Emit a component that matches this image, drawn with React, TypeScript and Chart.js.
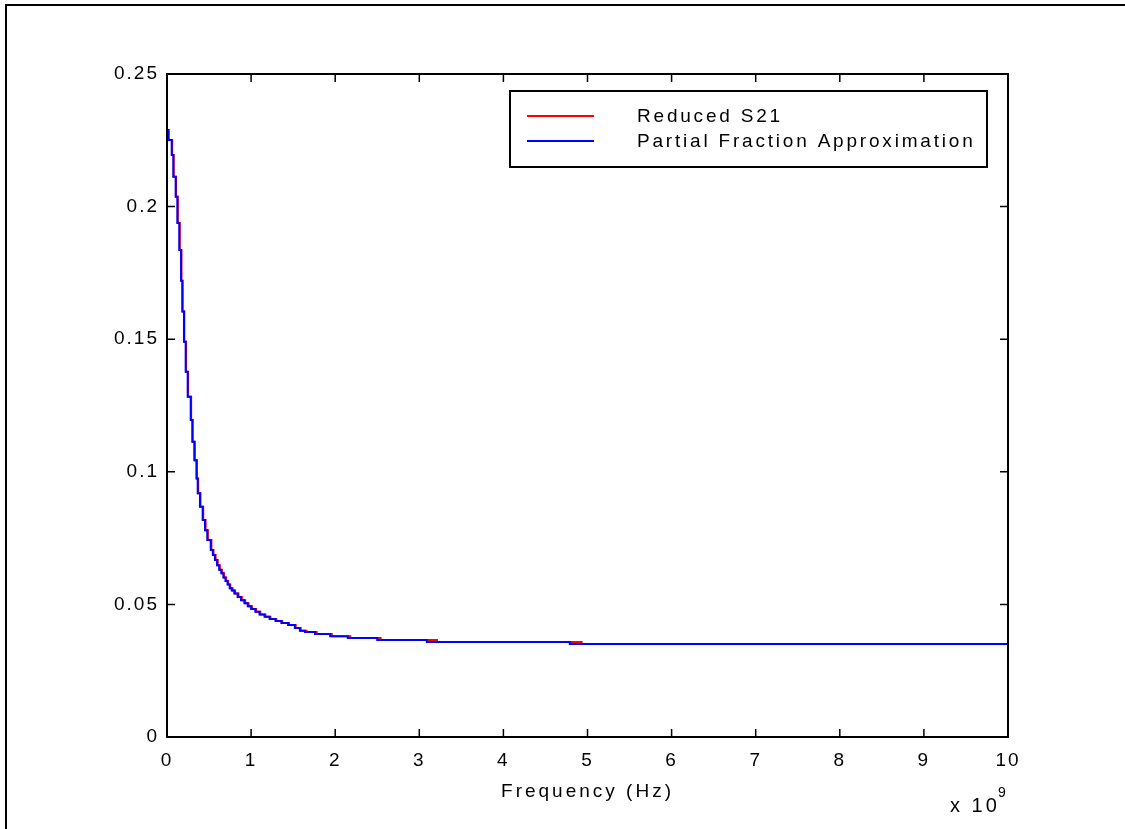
import React, { useEffect, useRef } from "react";
import { Chart, registerables } from "chart.js";

Chart.register(...registerables);

// Frequency (x 1e9 Hz) at which each level of the staircase starts
const blueFreq = [0, 0.016, 0.056, 0.075, 0.103, 0.123, 0.146, 0.167, 0.182, 0.202, 0.222, 0.246, 0.282, 0.301, 0.325, 0.35, 0.365, 0.392, 0.424, 0.452, 0.479, 0.52, 0.545, 0.57, 0.595, 0.62, 0.645, 0.67, 0.695, 0.72, 0.745, 0.77, 0.8, 0.84, 0.88, 0.92, 0.96, 1.0, 1.05, 1.1, 1.16, 1.22, 1.29, 1.36, 1.44, 1.52, 1.58, 1.64, 1.76, 1.94, 2.15, 2.5, 3.09, 4.79, 10];
const blueS21 = [0.2289, 0.2251, 0.2195, 0.2113, 0.2037, 0.1938, 0.1836, 0.172, 0.1604, 0.149, 0.1377, 0.1283, 0.1195, 0.1113, 0.1044, 0.0975, 0.0919, 0.0868, 0.0818, 0.078, 0.0743, 0.0705, 0.0686, 0.0667, 0.0648, 0.0631, 0.0617, 0.0601, 0.0588, 0.0575, 0.0561, 0.0552, 0.0541, 0.0528, 0.0516, 0.0504, 0.0493, 0.0483, 0.0472, 0.0462, 0.0453, 0.0445, 0.0437, 0.043, 0.0422, 0.0411, 0.0401, 0.0396, 0.0388, 0.038, 0.0373, 0.0366, 0.0358, 0.0351, 0.0351];

const redFreq = [0, 0.02, 0.062, 0.08, 0.108, 0.129, 0.152, 0.172, 0.186, 0.206, 0.227, 0.251, 0.287, 0.306, 0.331, 0.356, 0.371, 0.398, 0.431, 0.459, 0.486, 0.528, 0.553, 0.578, 0.603, 0.628, 0.653, 0.678, 0.703, 0.728, 0.753, 0.78, 0.81, 0.85, 0.89, 0.93, 0.97, 1.01, 1.06, 1.11, 1.17, 1.23, 1.3, 1.37, 1.45, 1.53, 1.59, 1.66, 1.78, 1.96, 2.18, 2.54, 3.21, 4.93, 10];
const redS21 = [0.2289, 0.2251, 0.2195, 0.2113, 0.2037, 0.1938, 0.1836, 0.172, 0.1604, 0.149, 0.1377, 0.1283, 0.1195, 0.1113, 0.1044, 0.0975, 0.0919, 0.0868, 0.0818, 0.078, 0.0743, 0.0705, 0.0686, 0.0667, 0.0648, 0.0631, 0.0617, 0.0601, 0.0588, 0.0575, 0.0561, 0.0552, 0.0541, 0.0528, 0.0516, 0.0504, 0.0493, 0.0483, 0.0472, 0.0462, 0.0453, 0.0445, 0.0437, 0.043, 0.0422, 0.0411, 0.0401, 0.0396, 0.0388, 0.038, 0.0373, 0.0366, 0.0358, 0.0351, 0.0351];

const seriesLabels = ["Reduced S21", "Partial Fraction Approximation"];
const xTickLabels = ["0", "1", "2", "3", "4", "5", "6", "7", "8", "9", "10"];
const yTickLabels = ["0", "0.05", "0.1", "0.15", "0.2", "0.25"];
const xAxisTitle = "Frequency (Hz)";
const xExponentBase = "x 10";
const xExponent = "9";

const FONT = '"Liberation Sans", Arial, sans-serif';

const matlabPlugin = {
  id: "matlabLook",
  beforeDraw(chart: any) {
    (chart.ctx as any).letterSpacing = "2px";
  },
  afterDraw(chart: any) {
    const { ctx, chartArea: a, scales } = chart;
    ctx.save();
    ctx.strokeStyle = "#000";
    ctx.fillStyle = "#000";
    // box
    ctx.lineWidth = 2;
    ctx.strokeRect(a.left, a.top, a.right - a.left, a.bottom - a.top);
    // inward ticks on all four sides
    ctx.lineWidth = 1.5;
    const tl = 8;
    scales.x.ticks.forEach((t: any) => {
      const px = scales.x.getPixelForValue(t.value);
      ctx.beginPath();
      ctx.moveTo(px, a.bottom);
      ctx.lineTo(px, a.bottom - tl);
      ctx.moveTo(px, a.top);
      ctx.lineTo(px, a.top + tl);
      ctx.stroke();
    });
    scales.y.ticks.forEach((t: any) => {
      const py = scales.y.getPixelForValue(t.value);
      ctx.beginPath();
      ctx.moveTo(a.left, py);
      ctx.lineTo(a.left + tl, py);
      ctx.moveTo(a.right, py);
      ctx.lineTo(a.right - tl, py);
      ctx.stroke();
    });

    // legend
    const bx = a.left + 343;
    const by = a.top + 17;
    const bw = 477;
    const bh = 76;
    ctx.fillStyle = "#fff";
    ctx.fillRect(bx, by, bw, bh);
    ctx.lineWidth = 2;
    ctx.strokeStyle = "#000";
    ctx.strokeRect(bx, by, bw, bh);
    const ds = chart.data.datasets;
    const rows = [25, 50];
    ds.forEach((d: any, i: number) => {
      const ly = by + rows[i];
      ctx.strokeStyle = d.borderColor;
      ctx.lineWidth = 2;
      ctx.beginPath();
      ctx.moveTo(bx + 17, ly);
      ctx.lineTo(bx + 84, ly);
      ctx.stroke();
      ctx.fillStyle = "#000";
      ctx.font = `19px ${FONT}`;
      (ctx as any).letterSpacing = "2.8px";
      ctx.textAlign = "left";
      ctx.textBaseline = "alphabetic";
      ctx.fillText(d.label, bx + 127, ly + 6);
    });

    // axis title
    ctx.fillStyle = "#000";
    ctx.font = `19px ${FONT}`;
    (ctx as any).letterSpacing = "3px";
    ctx.textAlign = "center";
    ctx.textBaseline = "alphabetic";
    ctx.fillText(xAxisTitle, (a.left + a.right) / 2, a.bottom + 60);

    // exponent
    ctx.textAlign = "left";
    ctx.font = `20px ${FONT}`;
    ctx.fillText(xExponentBase, a.right - 58, a.bottom + 75);
    ctx.font = `14px ${FONT}`;
    (ctx as any).letterSpacing = "0px";
    ctx.fillText(xExponent, a.right - 10, a.bottom + 60);
    ctx.restore();
  },
};

export default function App() {
  const ref = useRef<HTMLCanvasElement | null>(null);
  useEffect(() => {
    if (!ref.current) return;
    const chart = new Chart(ref.current, {
      type: "line",
      data: {
        datasets: [
          {
            label: seriesLabels[0],
            data: redFreq.map((f, i) => ({ x: f, y: redS21[i] })),
            borderColor: "#ff0000",
            borderWidth: 2,
            pointRadius: 0,
            stepped: true,
            fill: false,
            order: 1,
          },
          {
            label: seriesLabels[1],
            data: blueFreq.map((f, i) => ({ x: f, y: blueS21[i] })),
            borderColor: "#0000ff",
            borderWidth: 2,
            pointRadius: 0,
            stepped: true,
            fill: false,
            order: 0,
          },
        ],
      },
      options: {
        responsive: false,
        animation: false,
        devicePixelRatio: 1,
        layout: { padding: { top: 74, right: 117, left: 0, bottom: 0 } },
        plugins: { legend: { display: false }, tooltip: { enabled: false } },
        scales: {
          x: {
            type: "linear",
            min: 0,
            max: 10,
            grid: { display: false, drawTicks: false },
            border: { display: false },
            afterFit: (s: any) => {
              s.height = 92;
            },
            ticks: {
              stepSize: 1,
              autoSkip: false,
              maxRotation: 0,
              padding: 12,
              color: "#000",
              font: { family: FONT, size: 19 },
              callback: (_v: any, i: number) => xTickLabels[i],
            },
          },
          y: {
            type: "linear",
            min: 0,
            max: 0.25,
            grid: { display: false, drawTicks: false },
            border: { display: false },
            afterFit: (s: any) => {
              s.width = 167;
            },
            ticks: {
              stepSize: 0.05,
              padding: 8,
              color: "#000",
              font: { family: FONT, size: 19 },
              callback: (_v: any, i: number) => yTickLabels[i],
            },
          },
        },
      },
      plugins: [matlabPlugin],
    } as any);
    return () => chart.destroy();
  }, []);

  return (
    <div style={{ position: "absolute", left: 0, top: 0, width: 1125, height: 829, overflow: "hidden", background: "#fff" }}>
      <div
        style={{
          position: "absolute",
          left: 5,
          top: 4,
          width: 1200,
          height: 900,
          borderLeft: "2px solid #000",
          borderTop: "2px solid #000",
        }}
      />
      <canvas ref={ref} width={1125} height={829} style={{ position: "absolute", left: 0, top: 0, width: 1125, height: 829 }} />
    </div>
  );
}
